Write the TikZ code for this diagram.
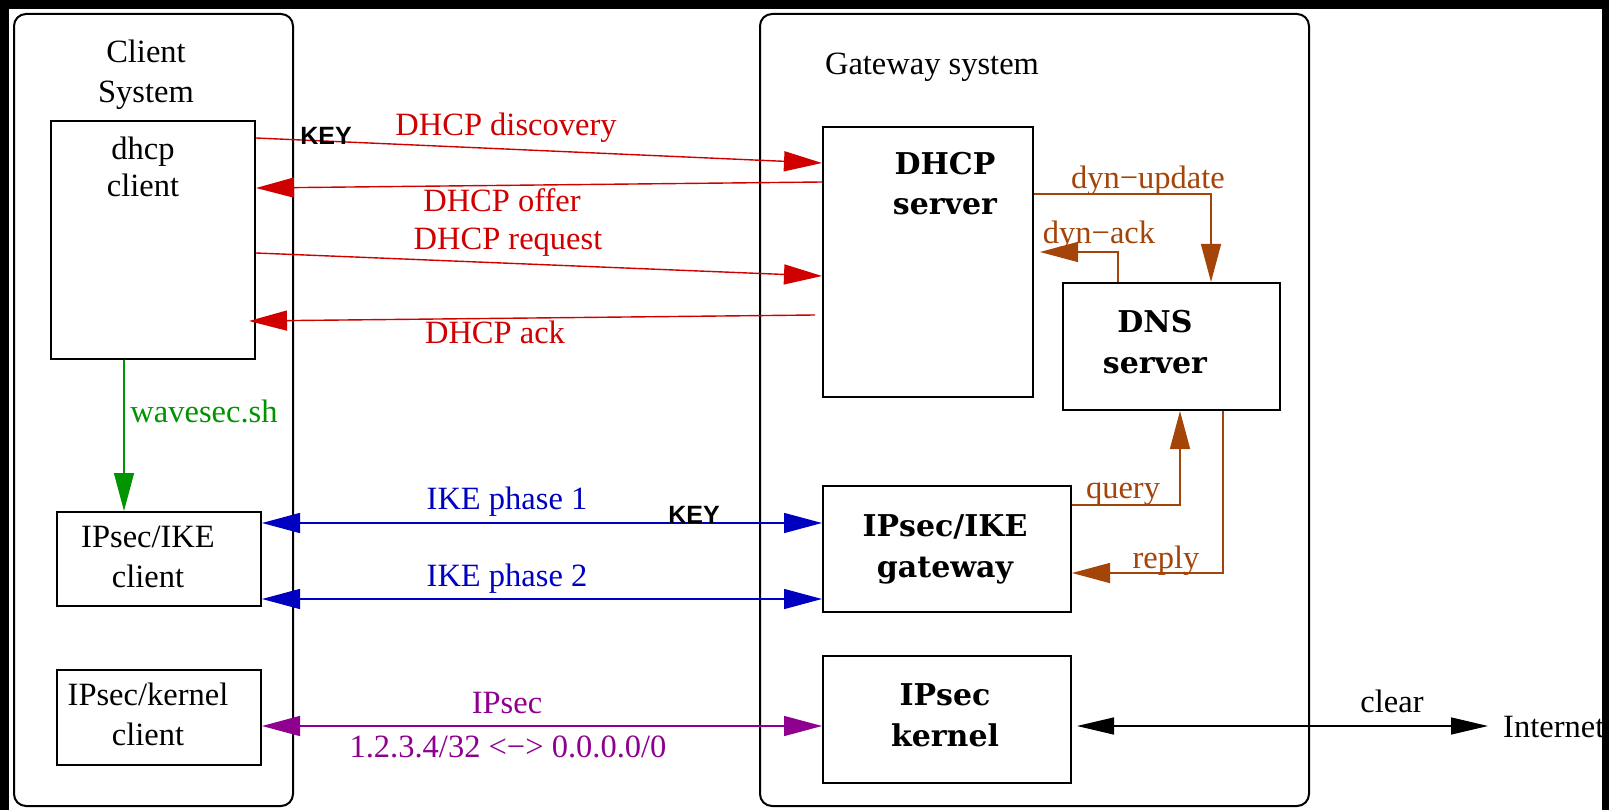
\documentclass[tikz,border=0pt]{standalone}
\usepackage{fontspec}
\setmainfont{Liberation Serif}
\newfontfamily\boxfont{DejaVu Serif}
\newfontfamily\keyfont{Liberation Sans}
\usetikzlibrary{arrows.meta,calc}
\definecolor{fred}{RGB}{208,0,0}
\definecolor{fblue}{RGB}{0,0,192}
\definecolor{fpurple}{RGB}{144,0,144}
\definecolor{fbrown}{RGB}{164,68,8}
\definecolor{fgreen}{RGB}{0,148,0}
\begin{document}
\begin{tikzpicture}[x=1pt,y=-1pt,
  sysbox/.style={draw,line width=2pt,rounded corners=12pt,anchor=north west,inner sep=0pt},
  box/.style={draw,line width=2pt,anchor=north west,inner sep=0pt},
  lab/.style={font=\fontsize{32.5}{39}\selectfont,inner sep=0pt,anchor=base},
  blab/.style={font=\boxfont\bfseries\fontsize{30}{36}\selectfont,inner sep=0pt,anchor=base},
  keylab/.style={font=\keyfont\bfseries\fontsize{25}{30}\selectfont,inner sep=0pt,anchor=base},
  conn/.style={line width=1.4pt},
  tip/.style={-{Triangle[length=38pt,width=20pt]}},
  dtip/.style={{Triangle[length=38pt,width=20pt]}-{Triangle[length=38pt,width=20pt]}}
]
\useasboundingbox (0,0) rectangle (1609,810);
\fill[white] (0,0) rectangle (1609,810);

% system frames
\node[sysbox,minimum width=279pt,minimum height=792pt] (clientsys) at (13,13) {};
\node[sysbox,minimum width=549pt,minimum height=792pt] (gatesys) at (759,13) {};
\node[lab] (tclient1) at (146,63) {Client};
\node[lab] (tclient2) at (146,103) {System};
\node[lab] (tgate) at (932,75) {Gateway system};

% client boxes
\node[box,minimum width=204pt,minimum height=238pt] (dhcpc) at (50,120) {};
\node[box,minimum width=204pt,minimum height=94pt] (ikec) at (56,511) {};
\node[box,minimum width=204pt,minimum height=95pt] (kernc) at (56,669) {};
\node[lab] (tdhcpc1) at (143,160) {dhcp};
\node[lab] (tdhcpc2) at (143,197) {client};
\node[lab] (tikec1) at (148,547) {IPsec/IKE};
\node[lab] (tikec2) at (148,587) {client};
\node[lab] (tkernc1) at (148,705) {IPsec/kernel};
\node[lab] (tkernc2) at (148,745) {client};

% gateway boxes
\node[box,minimum width=210pt,minimum height=270pt] (dhcps) at (822,126) {};
\node[box,minimum width=217pt,minimum height=127pt] (dns) at (1062,282) {};
\node[box,minimum width=248pt,minimum height=126pt] (ikeg) at (822,485) {};
\node[box,minimum width=248pt,minimum height=127pt] (kerng) at (822,655) {};
\node[blab] (tdhcps1) at (945,175) {DHCP};
\node[blab] (tdhcps2) at (945,215) {server};
\node[blab] (tdns1) at (1155,333) {DNS};
\node[blab] (tdns2) at (1155,373) {server};
\node[blab] (tikeg1) at (945,536) {IPsec/IKE};
\node[blab] (tikeg2) at (945,577) {gateway};
\node[blab] (tkerng1) at (945,705) {IPsec};
\node[blab] (tkerng2) at (945,746) {kernel};

% DHCP exchange (red)
\draw[conn,fred,tip] ($(dhcpc.north east)+(0,18)$) -- ($(dhcps.north west)+(0,37)$);
\draw[conn,fred,tip] ($(dhcps.north west)+(0,56)$) -- ($(dhcpc.north east)+(0,68)$);
\draw[conn,fred,tip] ($(dhcpc.north east)+(0,133)$) -- ($(dhcps.north west)+(0,150)$);
\draw[conn,fred,tip] ($(dhcps.north west)+(-7,189)$) -- ($(dhcpc.north east)+(-7,201)$);
\node[lab,fred] (ldisc) at (506,136) {DHCP discovery};
\node[lab,fred] (loffer) at (502,212) {DHCP offer};
\node[lab,fred] (lreq) at (508,250) {DHCP request};
\node[lab,fred] (lack) at (495,343) {DHCP ack};
\node[keylab] (key1) at (326,145) {KEY};

% wavesec (green)
\draw[conn,fgreen,tip] ($(dhcpc.south west)+(74,0)$) -- ($(ikec.north west)+(68,0)$);
\node[lab,fgreen] (lwave) at (204,422) {wavesec.sh};

% IKE (blue)
\draw[conn,fblue,dtip] ($(ikec.north east)+(0,12)$) -- ($(ikeg.north west)+(0,38)$);
\draw[conn,fblue,dtip] ($(ikec.north east)+(0,88)$) -- ($(ikeg.north west)+(0,114)$);
\node[lab,fblue] (like1) at (507,509) {IKE phase 1};
\node[lab,fblue] (like2) at (507,586) {IKE phase 2};
\node[keylab] (key2) at (694,523) {KEY};

% IPsec (purple)
\draw[conn,fpurple,dtip] ($(kernc.north east)+(0,57)$) -- ($(kerng.north west)+(0,71)$);
\node[lab,fpurple] (lipsec) at (507,713) {IPsec};
\node[lab,fpurple] (lnet) at (508,757) {1.2.3.4/32 <−> 0.0.0.0/0};

% DNS (brown)
\draw[conn,fbrown,tip] ($(dhcps.north east)+(0,68)$) -| ($(dns.north west)+(149,0)$);
\draw[conn,fbrown,tip] ($(dns.north west)+(56,0)$) |- ($(dhcps.north east)+(6,126)$);
\draw[conn,fbrown,tip] ($(ikeg.north east)+(0,20)$) -| ($(dns.south west)+(118,0)$);
\draw[conn,fbrown,tip] ($(dns.south west)+(161,0)$) |- ($(ikeg.north east)+(0,88)$);
\node[lab,fbrown] (lupd) at (1148,189) {dyn−update};
\node[lab,fbrown] (lack2) at (1099,244) {dyn−ack};
\node[lab,fbrown] (lquery) at (1123,498) {query};
\node[lab,fbrown] (lreply) at (1166,568) {reply};

% clear to Internet
\node[lab,anchor=base west] (inet) at (1503,737) {Internet};
\coordinate (netpt) at (1488,726);
\draw[conn,black,{Triangle[length=37pt,width=17pt]}-{Triangle[length=37pt,width=17pt]}] ($(kerng.north east)+(5,71)$) -- (netpt);
\node[lab] (lclear) at (1392,712) {clear};

% black border of the image
\fill[black] (0,0) rectangle (1609,9);
\fill[black] (0,0) rectangle (9,810);
\fill[black] (1602,0) rectangle (1609,810);
\end{tikzpicture}
\end{document}
